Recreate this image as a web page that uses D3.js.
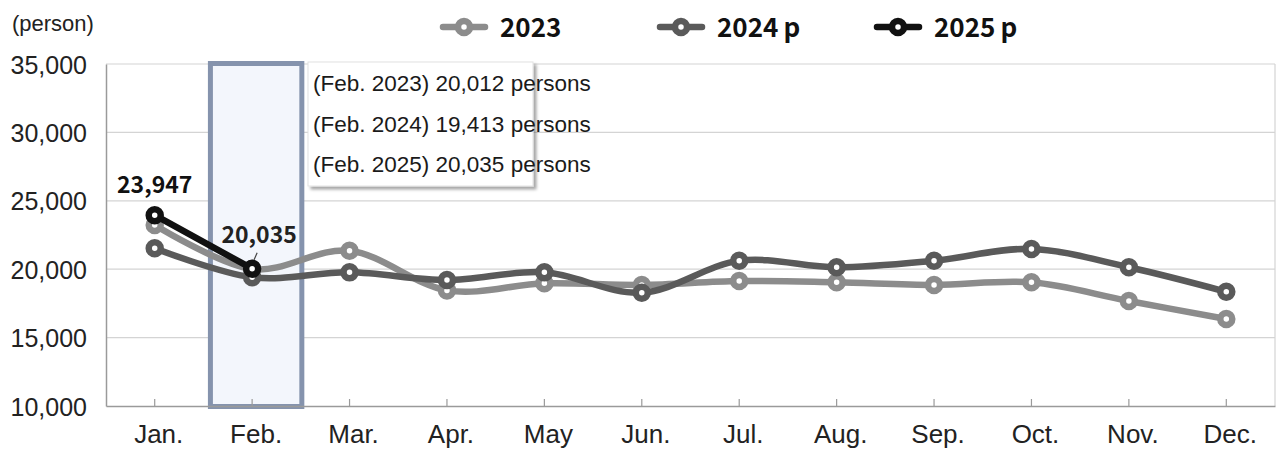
<!DOCTYPE html>
<html>
<head>
<meta charset="utf-8">
<script src="https://cdn.jsdelivr.net/npm/d3@7"></script>
<style>
  html, body { margin: 0; padding: 0; background: #fff; }
  svg { display: block; }
</style>
</head>
<body>
<svg id="chart" width="1276" height="450"></svg>
<script>
// ---- data ----
const months = ["Jan.", "Feb.", "Mar.", "Apr.", "May", "Jun.", "Jul.", "Aug.", "Sep.", "Oct.", "Nov.", "Dec."];
const seriesNames = ["2023", "2024\u2009p", "2025\u2009p"];
const values2023 = [23230, 20012, 21350, 18450, 18970, 18850, 19140, 19040, 18850, 19040, 17680, 16360];
const values2024 = [21530, 19413, 19770, 19210, 19770, 18280, 20620, 20140, 20620, 21480, 20140, 18350];
const values2025 = [23947, 20035];
const yTicks = [10000, 15000, 20000, 25000, 30000, 35000];
const highlightMonth = "Feb.";
const noteLines = ["(Feb. 2023) 20,012 persons", "(Feb. 2024) 19,413 persons", "(Feb. 2025) 20,035 persons"];
const unitLabel = "(person)";

// ---- layout ----
const svg = d3.select("#chart");
const M = { left: 106, right: 1275, top: 64, bottom: 406 };
const colors = ["#8c8c8c", "#5a5a5a", "#111111"];

const x = d3.scaleBand().domain(months).range([M.left, M.right]).padding(0);
const y = d3.scaleLinear().domain([10000, 35000]).range([M.bottom, M.top]);
const cx = m => x(m) + x.bandwidth() / 2;

const defs = svg.append("defs");
const f = defs.append("filter").attr("id", "shadow").attr("x", "-10%").attr("y", "-10%").attr("width", "130%").attr("height", "130%");
f.append("feDropShadow").attr("dx", 3).attr("dy", 3).attr("stdDeviation", 1.5)
  .attr("flood-color", "#000").attr("flood-opacity", 0.35);

// gridlines
svg.append("g").selectAll("line").data(yTicks.slice(1)).join("line")
  .attr("x1", M.left).attr("x2", M.right)
  .attr("y1", d => y(d)).attr("y2", d => y(d))
  .attr("stroke", "#d4d4d4").attr("stroke-width", 1.2);

// right border
svg.append("line").attr("x1", M.right).attr("x2", M.right).attr("y1", M.top).attr("y2", M.bottom)
  .attr("stroke", "#d4d4d4").attr("stroke-width", 1.2);

// highlight band
svg.append("rect")
  .attr("x", x(highlightMonth) + 7).attr("y", M.top - 0.5)
  .attr("width", x.bandwidth() - 6).attr("height", M.bottom - M.top + 1)
  .attr("fill", "#f3f6fc").attr("stroke", "#8593ad").attr("stroke-width", 5);

// y axis
const yAxis = d3.axisLeft(y).tickValues(yTicks).tickSize(0).tickPadding(19)
  .tickFormat(d3.format(","));
const gy = svg.append("g").attr("transform", `translate(${M.left},0)`).call(yAxis);
gy.select(".domain").attr("stroke", "#9a9a9a").attr("stroke-width", 1.5);
gy.selectAll("text").attr("font-family", "'Liberation Sans', Arial, sans-serif")
  .attr("font-size", 25).attr("fill", "#222").attr("dy", "0.36em");

// x axis
const xAxis = d3.axisBottom(x).tickSize(-7).tickSizeOuter(0).tickPadding(0);
const gx = svg.append("g").attr("transform", `translate(0,${M.bottom})`).call(xAxis);
gx.select(".domain").attr("stroke", "#9a9a9a").attr("stroke-width", 1.5);
gx.selectAll(".tick line").attr("stroke", "#9a9a9a").attr("stroke-width", 1.2);
gx.selectAll("text").attr("font-family", "'Liberation Sans', Arial, sans-serif")
  .attr("font-size", 26).attr("fill", "#222").attr("y", 37).attr("dy", 0).attr("dx", 4);

// note box
const box = svg.append("g");
box.append("rect").attr("x", 308).attr("y", 62).attr("width", 225).attr("height", 124)
  .attr("fill", "#fff").attr("stroke", "#e2e2e2").attr("filter", "url(#shadow)");
box.selectAll("text").data(noteLines).join("text")
  .attr("x", 313).attr("y", (d, i) => 91 + i * 40.5)
  .attr("font-family", "'Liberation Sans', Arial, sans-serif").attr("font-size", 22.5)
  .attr("fill", "#1a1a1a").text(d => d);

// lines
const allSeries = [values2023, values2024, values2025];
const line = d3.line().x((d, i) => cx(months[i])).y(d => y(d)).curve(d3.curveCatmullRom.alpha(0));
allSeries.forEach((vals, s) => {
  svg.append("path").datum(vals).attr("d", line)
    .attr("fill", "none").attr("stroke", colors[s]).attr("stroke-width", 6.5)
    .attr("stroke-linejoin", "round").attr("stroke-linecap", "round");
  svg.append("g").selectAll("circle").data(vals).join("circle")
    .attr("cx", (d, i) => cx(months[i])).attr("cy", d => y(d))
    .attr("r", 6).attr("fill", "#fff").attr("stroke", colors[s]).attr("stroke-width", 6.5);
});

// data labels for 2025
const labelFont = "'Noto Sans CJK KR', 'Noto Sans', sans-serif";
svg.append("text").attr("x", cx(months[0])).attr("y", y(values2025[0]) - 22)
  .attr("text-anchor", "middle").attr("font-family", labelFont).attr("font-weight", "bold")
  .attr("font-size", 23).attr("fill", "#111").text(d3.format(",")(values2025[0]));
svg.append("text").attr("x", cx(months[1]) + 7).attr("y", y(values2025[1]) - 26)
  .attr("text-anchor", "middle").attr("font-family", labelFont).attr("font-weight", "bold")
  .attr("font-size", 23).attr("fill", "#222").text(d3.format(",")(values2025[1]));
svg.append("line")
  .attr("x1", cx(months[1]) + 5).attr("y1", y(values2025[1]) - 16)
  .attr("x2", cx(months[1]) + 2).attr("y2", y(values2025[1]) - 9)
  .attr("stroke", "#444").attr("stroke-width", 1.2);

// unit label
svg.append("text").attr("x", 12).attr("y", 31)
  .attr("font-family", "'Liberation Sans', Arial, sans-serif").attr("font-size", 22)
  .attr("fill", "#222").text(unitLabel);

// legend
const legendX = [443, 660, 877];
const lg = svg.append("g");
seriesNames.forEach((name, s) => {
  const g = lg.append("g").attr("transform", `translate(${legendX[s]},27)`);
  g.append("line").attr("x1", 0).attr("x2", 42).attr("y1", 0).attr("y2", 0)
    .attr("stroke", colors[s]).attr("stroke-width", 6.5).attr("stroke-linecap", "round");
  g.append("circle").attr("cx", 21).attr("cy", 0).attr("r", 6)
    .attr("fill", "#fff").attr("stroke", colors[s]).attr("stroke-width", 6.5);
  g.append("text").attr("x", 57).attr("y", 10)
    .attr("font-family", labelFont).attr("font-weight", "bold").attr("font-size", 26)
    .attr("fill", "#111").text(name);
});
</script>
</body>
</html>
